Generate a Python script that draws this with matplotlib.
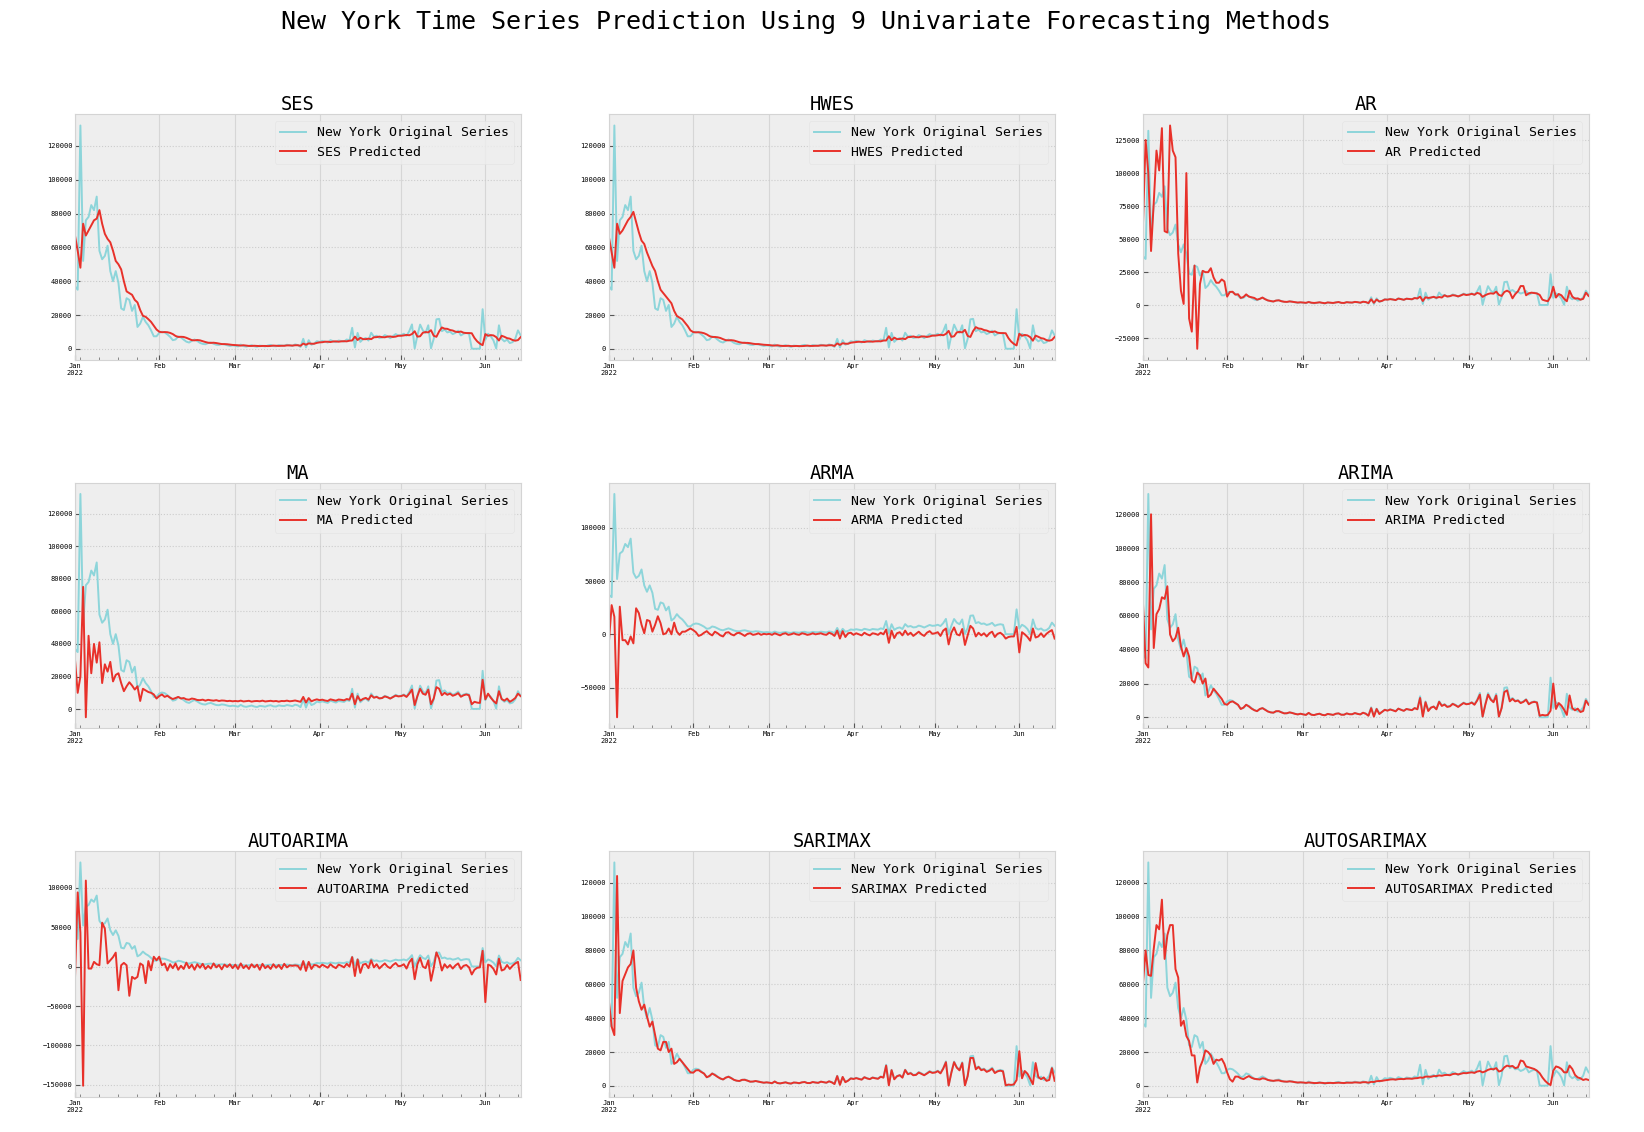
import matplotlib
matplotlib.use("Agg")
import matplotlib.pyplot as plt
import matplotlib.dates as mdates
import pandas as pd

# daily cases, 2022-01-01 .. 2022-06-14
dates = pd.date_range("2022-01-01", "2022-06-14", freq="D")

original = [
    # Jan
    37000, 35000, 132000, 52000, 76000, 78000, 85000, 82000, 90000, 58000,
    53000, 55000, 61000, 46000, 40000, 46000, 39000, 24000, 23000, 30000,
    29000, 22500, 26000, 13000, 15000, 19000, 16000, 14000, 11000, 7500,
    7500,
    # Feb
    9500, 10200, 9800, 8600, 7200, 5200, 5600, 7400, 6800, 5500,
    4300, 3800, 4800, 5600, 4700, 3600, 3000, 2800, 3500, 3800,
    3100, 2500, 2400, 2900, 2700, 2200, 1800, 2100,
    # Mar
    1900, 1500, 2600, 1700, 1400, 1800, 2200, 1600, 1300, 2000,
    1800, 1500, 2100, 2400, 1700, 1600, 2300, 2000, 1900, 2500,
    2200, 1800, 2700, 2300, 1200, 6000, 900, 5200, 2500, 3200,
    4600,
    # Apr
    4200, 4800, 4300, 3800, 5200, 4600, 4000, 5000, 4700, 4400,
    5600, 5000, 12500, 900, 9500, 4200, 5800, 6500, 5000, 9600,
    7200, 7800, 6500, 6800, 8200, 7500, 6400, 7600, 8800, 8000,
    # May
    8200, 9000, 7800, 10500, 14500, 300, 8000, 14400, 11000, 9500,
    14000, 400, 6000, 17500, 17800, 10500, 11500, 9800, 10200, 8800,
    9500, 10800, 8000, 9000, 9500, 9000, 200, 100, 150, 200,
    23500,
    # Jun
    5500, 9000, 7500, 5000, 300, 14000, 6000, 4500, 5500, 3500,
    4000, 6000, 11000, 8000,
]

ses_pred = [
    67000, 58000, 48000, 74000, 67000, 70000, 73000, 76000, 77000, 82000,
    74000, 68000, 65000, 63000, 58000, 52000, 50000, 47000, 40000, 34000,
    33000, 32000, 29000, 27500, 23000, 19600, 19000, 17600, 16000, 13700,
    11500,
    10200, 9900, 10000, 9900, 9500, 8800, 7700, 7100, 7200, 7100,
    6600, 5900, 5200, 5100, 5300, 5100, 4600, 4100, 3700, 3600,
    3700, 3500, 3200, 2900, 2900, 2800, 2600, 2400,
    2300, 2200, 2000, 2200, 2000, 1800, 1800, 1900, 1800, 1700,
    1800, 1800, 1700, 1800, 2000, 1900, 1800, 1900, 1900, 2100,
    2100, 2000, 2200, 2200, 1900, 3200, 2500, 3300, 3100, 3100,
    3600,
    3900, 4000, 4300, 4300, 4100, 4400, 4500, 4300, 4500, 4600,
    4500, 4900, 5000, 7300, 5300, 6600, 5800, 5800, 6100, 5800,
    6900, 7000, 7300, 7000, 6900, 7300, 7400, 7100, 7300, 7800,
    7800, 8000, 8300, 8100, 8800, 10500, 7300, 7500, 9600, 10000,
    9800, 11100, 7800, 7200, 10400, 12700, 12000, 11900, 11200, 10900,
    10200, 10000, 10300, 9600, 9400, 9400, 9300, 6500, 4500, 3150,
    2250,
    8800, 7800, 8200, 8000, 7000, 5000, 7800, 7200, 6400, 6100,
    5300, 4900, 5250, 7000,
]

hwes_pred = [
    66000, 57000, 48000, 74000, 68000, 70000, 73000, 76000, 78000, 81000,
    75000, 69000, 64000, 62000, 57000, 53000, 49000, 46000, 40000, 35000,
    33000, 31000, 29000, 27000, 22500, 19500, 18500, 17500, 15500, 13500,
    11000,
    10000, 9800, 9900, 9700, 9300, 8600, 7600, 7100, 7100, 6900,
    6500, 5800, 5200, 5100, 5200, 5000, 4500, 4000, 3700, 3600,
    3600, 3400, 3100, 2900, 2900, 2700, 2500, 2400,
    2300, 2100, 2000, 2200, 1900, 1800, 1800, 1900, 1700, 1700,
    1800, 1700, 1700, 1800, 2000, 1800, 1800, 1900, 1900, 2100,
    2100, 2000, 2200, 2200, 1800, 3300, 2400, 3400, 3100, 3100,
    3700,
    3900, 4100, 4300, 4200, 4100, 4400, 4500, 4300, 4500, 4600,
    4500, 5000, 5000, 7500, 5200, 6700, 5800, 5900, 6200, 5800,
    7000, 7100, 7400, 7000, 6900, 7400, 7400, 7100, 7400, 7900,
    7900, 8100, 8400, 8100, 8900, 10700, 7200, 7500, 9800, 10100,
    9800, 11300, 7700, 7100, 10600, 12900, 12100, 11900, 11200, 10900,
    10200, 10000, 10400, 9600, 9400, 9400, 9300, 6400, 4400, 3000,
    2100,
    9000, 7800, 8300, 8000, 7000, 4900, 7900, 7200, 6400, 6100,
    5200, 4900, 5300, 7100,
]

ar_pred = [
    59000, 125000, 100000, 41000, 78000, 117000, 102000, 134000, 56000, 55000,
    136000, 117000, 112000, 39000, 11000, 1000, 100000, -10000, -20000, 30000,
    -33000, 16000, 26000, 25000, 25000, 28000, 21000, 17000, 17000, 19500,
    18000,
    6500, 10000, 10200, 8000, 8300, 5500, 6200, 8200, 6500, 6000,
    5500, 4200, 4800, 5800, 4500, 3600, 3200, 2800, 3500, 3700,
    3000, 2600, 2500, 2900, 2600, 2300, 2000, 2200,
    2000, 1800, 2400, 1900, 1700, 1900, 2200, 1800, 1500, 2100,
    1900, 1700, 2100, 2400, 1800, 1700, 2300, 2100, 2000, 2500,
    2300, 1900, 2600, 2400, 1600, 4500, 1800, 4300, 2800, 3300,
    4300,
    4200, 4600, 4300, 3900, 5000, 4600, 4100, 4900, 4700, 4500,
    5400, 5100, 6500, 3200, 6000, 5500, 5800, 6300, 5600, 6200,
    5800, 7500, 6600, 6900, 7600, 7300, 6700, 7400, 8300, 7700,
    8000, 8600, 7900, 9300, 8700, 6300, 7600, 8500, 9000, 8700,
    10300, 7800, 7000, 10000, 11000, 9800, 5200, 8400, 10500, 14500,
    14500, 7500, 9000, 9500, 9200, 8900, 7800, 4200, 3500, 3000,
    6500,
    14000, 5800, 8500, 7500, 4800, 3000, 11000, 6500, 5000, 5200,
    4200, 4800, 9500, 7000,
]

ma_pred = [
    30500, 10000, 20000, 75000, -5000, 45000, 22000, 40000, 28500, 41000,
    16000, 27500, 23000, 29000, 17000, 21000, 22000, 16000, 11000, 14000,
    16500, 14500, 12000, 14000, 5000, 12500, 11500, 10500, 10000, 9000,
    6500,
    8000, 9000, 7500, 8200, 7000, 6200, 6800, 7500, 6500, 6800,
    6000, 5800, 6500, 6200, 5600, 5500, 5800, 5200, 5700, 5400,
    5200, 5500, 5000, 5300, 5200, 4900, 5100, 4800,
    5000, 4800, 5200, 4700, 4900, 5100, 4600, 4900, 5000, 4800,
    5200, 4700, 4900, 5100, 4800, 5000, 4600, 5000, 4900, 5200,
    4800, 5000, 5300, 4900, 4500, 7500, 4000, 6800, 4800, 5500,
    6000,
    5500, 5800, 5300, 5000, 6000, 5600, 5200, 5900, 5700, 5400,
    6200, 5800, 9500, 3000, 8000, 5200, 6300, 6900, 5800, 8500,
    7000, 7500, 6600, 6800, 7800, 7300, 6500, 7400, 8300, 7800,
    8000, 8600, 7500, 9500, 12000, 2500, 8000, 12500, 9500, 8800,
    12000, 3000, 6500, 13500, 12500, 8500, 10000, 8800, 9500, 8200,
    8800, 9800, 7600, 8500, 9000, 8500, 3000, 4500, 4000, 3800,
    18000,
    6000, 9500, 7000, 5000, 3500, 11000, 6200, 5200, 6500, 4500,
    5500, 6800, 9500, 8000,
]

arma_pred = [
    -7000, 27500, 16500, -78000, 26000, -5500, -5500, -9500, -2000, -8500,
    24500, 20000, 9000, 1000, 13500, 12500, 2500, 9000, 17000, 10500,
    0, 1000, 5500, 0, 11000, 2500, -500, 2500, 2500, 4000,
    5500,
    4000, 2000, -1500, -500, 1500, 3000, 500, -1000, 2500, 1000,
    -1000, -2000, 1500, 2000, 0, -1000, 1000, 1500, 0, -1500,
    500, 1000, -500, 0, 1000, -500, 500, 0,
    500, -500, 1000, 0, -1000, 500, 1000, -500, 0, 1000,
    0, -500, 1000, 500, -500, 0, 1000, 0, 500, 1000,
    0, -500, 1500, 500, -1500, 3500, -4000, 3000, -2500, 1000,
    1500,
    -500, 1000, 0, -1000, 1500, 0, -1000, 1000, 500, -500,
    1500, 0, 4500, -8000, 3500, -3500, 1000, 2000, -1000, 3500,
    -500, 1500, -1500, 500, 2500, 0, -1500, 1500, 3000, 500,
    1000, 2000, -1500, 3500, 5500, -9500, 1500, 6500, 0, -1000,
    5000, -10000, -1000, 8000, 5500, -2000, 1500, -1000, 1000, -2000,
    1000, 2500, -2500, 500, 1500, -500, -4000, -2500, -2000, -2000,
    7000,
    -17000, 2000, 0, -2500, -6000, 5500, -3000, -2000, 1000, -2500,
    500, 2500, 4000, -4000,
]

arima_pred = [
    68700, 32000, 29500, 120000, 41000, 61000, 64000, 71000, 70000, 77500,
    49000, 45000, 47000, 53000, 42000, 36000, 41000, 36000, 22000, 20500,
    26500, 25000, 20000, 23000, 12000, 13500, 17000, 15000, 13000, 11000,
    8000,
    7500, 9000, 9500, 8500, 7500, 5000, 5800, 7500, 6500, 5200,
    4300, 3700, 5000, 5500, 4500, 3500, 3000, 2800, 3700, 3700,
    3000, 2400, 2500, 3000, 2600, 2100, 1800, 2200,
    1800, 1500, 2700, 1600, 1400, 1900, 2200, 1500, 1300, 2100,
    1800, 1500, 2200, 2400, 1600, 1600, 2400, 1900, 1900, 2600,
    2100, 1800, 2800, 2200, 1000, 5500, 500, 5000, 2000, 3300,
    4500,
    4000, 4700, 4200, 3600, 5200, 4500, 3900, 5000, 4600, 4300,
    5500, 4800, 11500, 500, 9000, 3800, 5800, 6400, 4800, 9200,
    6800, 7600, 6200, 6600, 8000, 7200, 6200, 7400, 8500, 7800,
    8000, 8800, 7500, 10000, 13500, 500, 7500, 13500, 10500, 9000,
    13000, 500, 5500, 15000, 16000, 9500, 11000, 9500, 10000, 8500,
    9200, 10500, 7800, 8800, 9200, 8800, 1000, 1500, 1200, 1500,
    4000,
    20000, 5000, 8500, 7000, 4500, 1500, 13000, 5500, 4200, 5200,
    3200, 3800, 10000, 7500,
]

autoarima_pred = [
    -15500, 94000, 43000, -151000, 109000, -2500, -2500, 6000, 3000, 1700,
    55600, 48000, 4000, 8000, 12000, 17700, -30000, 1700, 4700, 1700,
    -37000, -13000, -15500, -13000, 4000, 1700, -21000, 7000, -4700, 12500,
    8000,
    12500, 1700, 4000, -5000, 3000, -2000, 4000, -4000, 1000, -3000,
    5000, -2000, 2500, -4000, 3000, -1500, 3500, -3000, 1000, -2500,
    4000, -1000, 2000, -3500, 2500, -500, 3000, -2000,
    2500, -3000, 4000, -2000, 1500, -3000, 3000, -1000, 2500, -4000,
    3500, -2000, 1000, -3000, 3000, -1500, 2000, -3000, 3500, -1000,
    1500, 1000, 1500, 1000, -4000, 7000, -5500, 6000, -3000, 2000,
    1500,
    -1000, 2500, 500, -1500, 3000, 0, -2000, 2500, 1000, -1000,
    3500, 0, 12000, -12000, 9000, -8000, 2500, 3500, -2000, 8000,
    -1000, 3000, -2500, 1000, 4000, 0, -2000, 2000, 4500, 500,
    1000, 3000, -2500, 5500, 10000, -16000, 3000, 11000, 0, -2000,
    8000, -18000, -2000, 18000, 10000, -5000, 3000, -1500, 2000, -2500,
    1500, 4000, -3000, 1000, 2000, -1000, -10000, -4000, -1500, -1000,
    20000,
    -45000, 2500, 1000, -3000, -10000, 10000, -5000, -3500, 2000, -3000,
    1000, 4000, 6000, -17000,
]

sarimax_pred = [
    50000, 35000, 30000, 124000, 43000, 62000, 66000, 70000, 72000, 80000,
    58000, 50000, 45000, 48000, 41000, 35000, 38000, 30000, 22000, 21000,
    26000, 26000, 20000, 22000, 13000, 14000, 16000, 14000, 12000, 10000,
    8000,
    7800, 9200, 9300, 8200, 7300, 5100, 5900, 7300, 6400, 5300,
    4400, 3800, 4900, 5400, 4600, 3600, 3100, 2900, 3600, 3600,
    3100, 2500, 2600, 2900, 2500, 2200, 1900, 2100,
    1900, 1600, 2600, 1700, 1500, 1800, 2100, 1600, 1400, 2000,
    1900, 1600, 2100, 2300, 1700, 1700, 2300, 2000, 1800, 2500,
    2200, 1900, 2700, 2100, 1100, 5800, 600, 5300, 2200, 3100,
    4400,
    4100, 4600, 4100, 3700, 5100, 4400, 4000, 4900, 4500, 4200,
    5400, 4900, 12000, 300, 9300, 3900, 5700, 6300, 4900, 9400,
    6900, 7500, 6300, 6500, 7900, 7100, 6300, 7300, 8400, 7700,
    7900, 8700, 7400, 10200, 14000, 200, 7800, 14000, 10800, 9200,
    13500, 300, 5800, 16500, 16500, 9800, 11200, 9300, 9800, 8300,
    9000, 10200, 7600, 8600, 9000, 8600, 300, 800, 600, 900,
    3500,
    20500, 4500, 8800, 7200, 4200, 1000, 13500, 5200, 4000, 5000,
    3000, 3500, 10500, 3000,
]

autosarimax_pred = [
    60000, 80000, 65500, 65000, 81000, 95000, 92500, 110000, 75000, 89000,
    95000, 95000, 69000, 64000, 35500, 38500, 29500, 26500, 18000, 18000,
    2000, 11000, 15000, 21000, 20000, 18000, 13000, 15500, 15000, 16000,
    13000,
    8000, 4000, 2500, 5500, 5500, 4500, 4000, 5000, 5800, 4800,
    4200, 4000, 3800, 4500, 4200, 3500, 3200, 3000, 3200, 3300,
    2800, 2600, 2500, 2700, 2500, 2200, 2000, 2100,
    2000, 1800, 2000, 1900, 1700, 1700, 1900, 1800, 1600, 1700,
    1800, 1700, 1800, 1900, 1800, 1700, 1900, 1900, 1900, 2100,
    2000, 1900, 2200, 2200, 1900, 2400, 2300, 2800, 2900, 3000,
    3300,
    3500, 3800, 3900, 3700, 4000, 4100, 4000, 4300, 4300, 4200,
    4500, 4600, 5000, 4800, 5500, 5500, 5400, 5800, 5800, 6200,
    6000, 6400, 6500, 6300, 7000, 7200, 6800, 7200, 7600, 7500,
    7800, 8000, 7700, 8500, 8800, 8000, 8600, 9500, 10000, 9800,
    10500, 8500, 9000, 11000, 12000, 11500, 11800, 10500, 11000, 15000,
    14500, 11500, 11000, 10500, 10000, 9000, 7500, 5000, 3000, 1500,
    500,
    9000, 11500, 11000, 10000, 8000, 8000, 12000, 10000, 6500, 5000,
    4500, 3500, 4000, 3500,
]

methods = ["SES", "HWES", "AR", "MA", "ARMA", "ARIMA",
           "AUTOARIMA", "SARIMAX", "AUTOSARIMAX"]
predictions = [ses_pred, hwes_pred, ar_pred, ma_pred, arma_pred, arima_pred,
               autoarima_pred, sarimax_pred, autosarimax_pred]
city = "New York"

plt.style.use("bmh")
plt.rcParams["font.family"] = ["DejaVu Sans Mono", "DejaVu Sans"]
plt.rcParams["axes.edgecolor"] = "#d4d4d4"

fig, axes = plt.subplots(3, 3, figsize=(16.44, 11.32), dpi=100)
fig.subplots_adjust(left=0.0456, right=0.9663, top=0.899, bottom=0.031,
                    wspace=0.198, hspace=0.50)


def month_label(x, pos):
    d = mdates.num2date(x)
    if d.month == 1:
        return d.strftime("%b\n%Y")
    return d.strftime("%b")


for ax, name, pred in zip(axes.flat, methods, predictions):
    ax.plot(dates, original, color="#8dd5da", lw=1.4,
            label=f"{city} Original Series")
    ax.plot(dates, pred, color="#e8312a", lw=1.4, label=f"{name} Predicted")
    ax.set_xlim(dates[0], dates[-1])
    ax.set_title(name, fontsize=13.5, pad=3)
    ax.xaxis.set_major_locator(mdates.MonthLocator())
    ax.xaxis.set_major_formatter(plt.FuncFormatter(month_label))
    ax.xaxis.set_minor_locator(mdates.WeekdayLocator(byweekday=mdates.MO))
    ax.tick_params(axis="both", which="major", labelsize=5, pad=2,
                   colors="#555555", labelcolor="black")
    ax.tick_params(axis="x", which="minor", colors="#777777")
    ax.grid(False)
    ax.grid(True, axis="x", which="major", color="#d6d6d6", ls="-", lw=0.8)
    ax.grid(True, axis="y", which="major", color="#cccccc", ls=":", lw=0.8)
    ax.legend(loc="upper right", fontsize=9.5, edgecolor="#e2e2e2")

fig.text(0.49, 0.981,
         f"{city} Time Series Prediction Using 9 Univariate Forecasting Methods",
         ha="center", va="center", fontsize=18)

fig.savefig("out.png", dpi=100)
